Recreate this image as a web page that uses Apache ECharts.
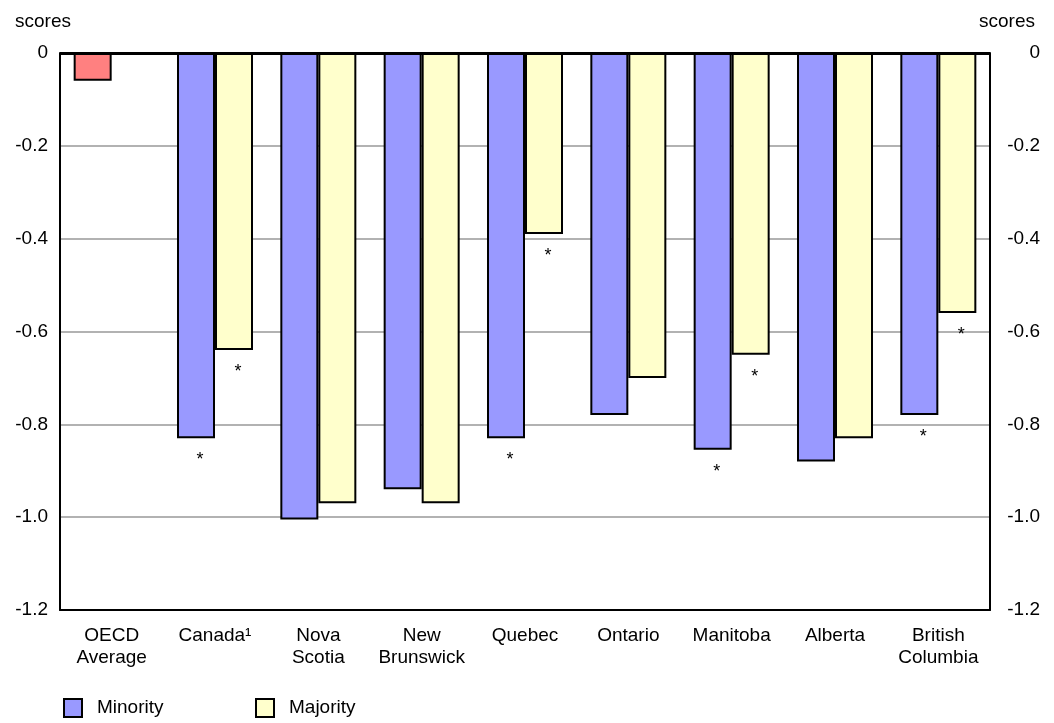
<!DOCTYPE html>
<html>
<head>
<meta charset="utf-8">
<script src="https://cdn.jsdelivr.net/npm/echarts@6/dist/echarts.min.js"></script>
<style>
html,body{margin:0;padding:0;background:#fff;}
#chart{width:1054px;height:723px;}
</style>
</head>
<body>
<div id="chart"></div>
<script>
var categories = ['OECD\nAverage', 'Canada\u00B9', 'Nova\nScotia', 'New\nBrunswick', 'Quebec', 'Ontario', 'Manitoba', 'Alberta', 'British\nColumbia'];
var minorityValues = [-0.06, -0.83, -1.005, -0.94, -0.83, -0.78, -0.855, -0.88, -0.78];
var majorityValues = [null, -0.64, -0.97, -0.97, -0.39, -0.70, -0.65, -0.83, -0.56];
var minoritySignificant = [false, true, false, false, true, false, true, false, true];
var majoritySignificant = [false, true, false, false, true, false, true, false, true];
var oecdIndex = 0;
var yTicks = { min: -1.2, max: 0, interval: 0.2 };

var FONT = 'Liberation Sans';
var MIN_COLOR = '#9999FF';
var MAJ_COLOR = '#FFFFCC';
var OECD_COLOR = '#FF8080';

function buildData(values, sig, isMinority) {
  return values.map(function (v, i) {
    if (v === null) return '-';
    var item = { value: v };
    if (isMinority && i === oecdIndex) {
      item.itemStyle = { color: OECD_COLOR };
    }
    if (sig[i]) {
      item.label = { show: true };
    }
    return item;
  });
}

function fmt(v) {
  if (Math.abs(v) < 1e-9) return '0';
  return v.toFixed(1);
}

var starLabel = {
  show: false,
  position: 'bottom',
  distance: 13,
  offset: [4, 0],
  formatter: '*',
  fontFamily: FONT,
  fontSize: 18,
  color: '#000'
};

var chart = echarts.init(document.getElementById('chart'), null, { renderer: 'canvas' });
chart.setOption({
  animation: false,
  backgroundColor: '#fff',
  textStyle: { fontFamily: FONT },
  grid: { left: 60, right: 64, top: 53, bottom: 113, containLabel: false },
  legend: [
    {
      data: ['Minority'],
      left: 63, top: 698,
      padding: 0,
      itemWidth: 18, itemHeight: 18,
      icon: 'rect',
      textStyle: { fontFamily: FONT, fontSize: 19, color: '#000', padding: [0, 0, 0, 10] }
    },
    {
      data: ['Majority'],
      left: 255, top: 698,
      padding: 0,
      itemWidth: 18, itemHeight: 18,
      icon: 'rect',
      textStyle: { fontFamily: FONT, fontSize: 19, color: '#000', padding: [0, 0, 0, 10] }
    }
  ],
  xAxis: {
    type: 'category',
    data: categories,
    position: 'bottom',
    axisLine: { show: true, onZero: false, lineStyle: { color: '#000', width: 2 } },
    axisTick: { show: false },
    axisLabel: {
      interval: 0,
      margin: 15,
      fontFamily: FONT,
      fontSize: 19,
      lineHeight: 22,
      color: '#000',
      align: 'center'
    }
  },
  yAxis: [
    {
      type: 'value',
      min: yTicks.min, max: yTicks.max, interval: yTicks.interval,
      position: 'left',
      name: 'scores',
      nameLocation: 'end',
      nameGap: 22,
      nameTextStyle: { fontFamily: FONT, fontSize: 19, color: '#000', align: 'center', padding: [0, 34, 0, 0] },
      axisLine: { show: true, lineStyle: { color: '#000', width: 2 } },
      axisTick: { show: false },
      axisLabel: { formatter: fmt, fontFamily: FONT, fontSize: 19, color: '#000', margin: 12 },
      splitLine: { show: true, lineStyle: { color: '#999', width: 1.5 } }
    },
    {
      type: 'value',
      min: yTicks.min, max: yTicks.max, interval: yTicks.interval,
      position: 'right',
      name: 'scores',
      nameLocation: 'end',
      nameGap: 22,
      nameTextStyle: { fontFamily: FONT, fontSize: 19, color: '#000', align: 'center', padding: [0, 0, 0, 34] },
      axisLine: { show: true, lineStyle: { color: '#000', width: 2 } },
      axisTick: { show: false },
      axisLabel: { formatter: fmt, fontFamily: FONT, fontSize: 19, color: '#000', margin: 50, align: 'right' },
      splitLine: { show: false }
    }
  ],
  series: [
    {
      name: 'Minority',
      type: 'bar',
      barWidth: 38,
      barGap: '0%',
      itemStyle: { color: MIN_COLOR, borderColor: '#000', borderWidth: 2 },
      label: starLabel,
      data: buildData(minorityValues, minoritySignificant, true),
      markLine: {
        silent: true,
        symbol: 'none',
        label: { show: false },
        lineStyle: { color: '#000', width: 3, type: 'solid' },
        data: [{ yAxis: 0 }]
      }
    },
    {
      name: 'Majority',
      type: 'bar',
      barWidth: 38,
      barGap: '0%',
      itemStyle: { color: MAJ_COLOR, borderColor: '#000', borderWidth: 2 },
      label: starLabel,
      data: buildData(majorityValues, majoritySignificant, false)
    }
  ]
});
</script>
</body>
</html>
